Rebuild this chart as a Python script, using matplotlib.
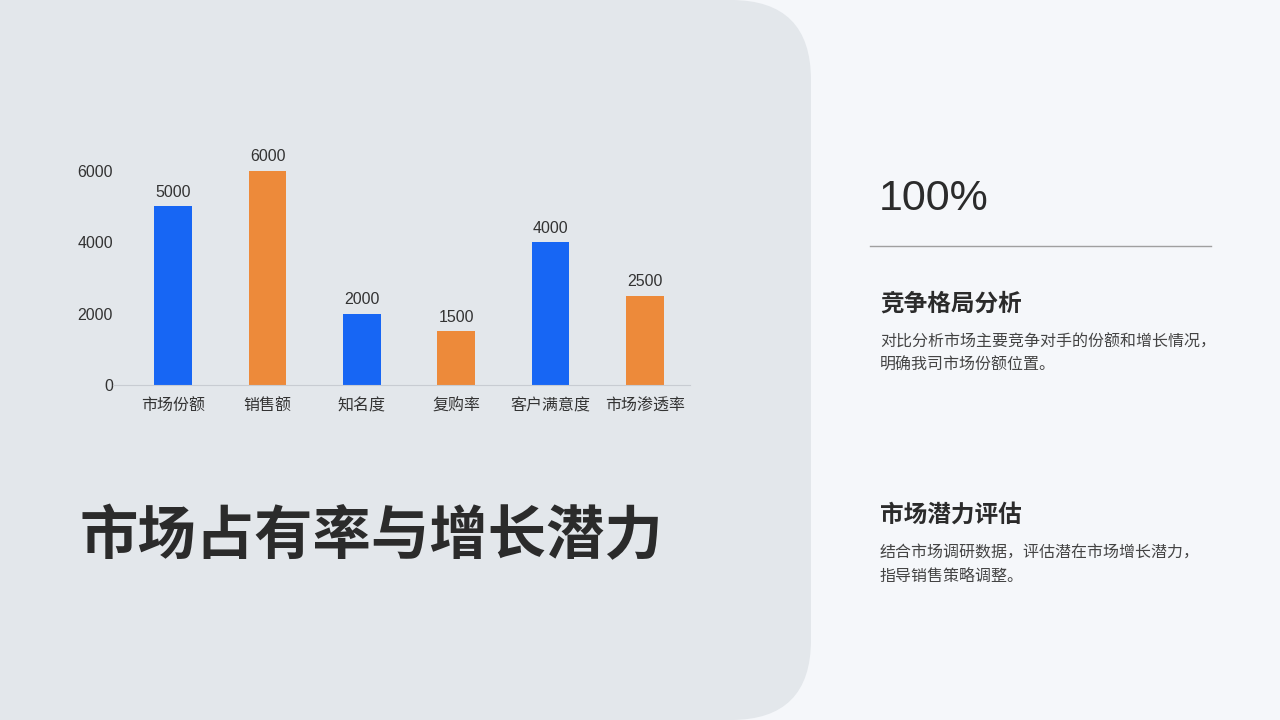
import matplotlib.pyplot as plt
from matplotlib.patches import FancyBboxPatch
from matplotlib.lines import Line2D

plt.rcParams['font.family'] = ['Noto Sans CJK SC', 'DejaVu Sans']

# chart data
categories = ['市场份额', '销售额', '知名度', '复购率', '客户满意度', '市场渗透率']
values = [5000, 6000, 2000, 1500, 4000, 2500]
bar_colors = ['#1766F4', '#ED8A3A', '#1766F4', '#ED8A3A', '#1766F4', '#ED8A3A']
y_ticks = [0, 2000, 4000, 6000]

title = '市场占有率与增长潜力'
big_number = '100%'
sections = [
    ('竞争格局分析', ['对比分析市场主要竞争对手的份额和增长情况，', '明确我司市场份额位置。']),
    ('市场潜力评估', ['结合市场调研数据，评估潜在市场增长潜力，', '指导销售策略调整。']),
]

latin = ['Liberation Sans', 'Noto Sans CJK SC']

W, H = 1280, 720
fig = plt.figure(figsize=(12.8, 7.2), dpi=100)
fig.patch.set_facecolor('#F5F7FA')

# left gray panel with rounded right corners
panel = FancyBboxPatch((-100 / W, 0), 911 / W, 1.0,
                       boxstyle='round,pad=0,rounding_size=0.0625',
                       transform=fig.transFigure, facecolor='#E3E7EB',
                       edgecolor='none', mutation_aspect=W / H, zorder=-5)
fig.patches.append(panel)

# bar chart
ax = fig.add_axes([113 / W, 1 - 385 / H, (690 - 113) / W, (385 - 135) / H])
ax.set_zorder(2)
ax.set_facecolor('none')
x = list(range(len(categories)))
bars = ax.bar(x, values, width=0.40, color=bar_colors, zorder=2)
for b, v in zip(bars, values):
    ax.text(b.get_x() + b.get_width() / 2, v + 180, str(v), ha='center',
            va='bottom', fontsize=11.5, color='#333333', family=latin)
ax.set_xlim(-0.64, 5.48)
ax.set_ylim(0, 7000)
ax.set_xticks(x)
ax.set_xticklabels(categories, fontsize=11.5, color='#333333')
ax.set_yticks(y_ticks)
ax.set_yticklabels([str(t) for t in y_ticks], fontsize=11.5, color='#333333',
                   family=latin)
for s in ['top', 'right', 'left']:
    ax.spines[s].set_visible(False)
ax.spines['bottom'].set_color('#C8CCD2')
ax.tick_params(axis='both', length=0)
ax.tick_params(axis='x', pad=9)
ax.tick_params(axis='y', pad=0)

# main title
fig.text(80 / W, 1 - 537 / H, title, fontsize=42, fontweight='bold',
         color='#2B2B2B', ha='left', va='center')

# right column
fig.text(879 / W, 1 - 199 / H, big_number, fontsize=31,
         color='#2B2B2B', ha='left', va='center', family=latin)
fig.add_artist(Line2D([870 / W, 1211 / W], [1 - 246 / H, 1 - 246 / H],
                      color='#A0A0A0', linewidth=1, transform=fig.transFigure))

head_y = [304, 515]
for (head, lines), hy in zip(sections, head_y):
    fig.text(880 / W, 1 - hy / H, head, fontsize=17, fontweight='bold',
             color='#2B2B2B', ha='left', va='center')
    for i, line in enumerate(lines):
        fig.text(880 / W, 1 - (hy + 38 + i * 23) / H, line, fontsize=11.5,
                 color='#444444', ha='left', va='center')

fig.savefig('out.png', dpi=100, facecolor=fig.get_facecolor())
